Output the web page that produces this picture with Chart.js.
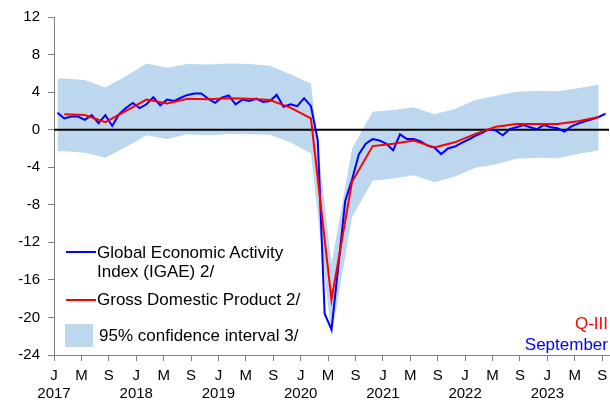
<!DOCTYPE html>
<html>
<head>
<meta charset="utf-8">
<script src="https://cdn.jsdelivr.net/npm/chart.js@4.4.1/dist/chart.umd.min.js"></script>
<style>
  html, body { margin: 0; padding: 0; background: #fff; }
  #wrap { position: relative; width: 610px; height: 404px; font-family: Arial, "Liberation Sans", sans-serif; color: #000; }
  #chart { position: absolute; left: 0; top: 0; }
  .txt { position: absolute; font-size: 17px; line-height: 19px; white-space: nowrap; }
  .key { position: absolute; }
</style>
</head>
<body>
<div id="wrap">
  <canvas id="chart" width="610" height="404"></canvas>
  <div class="key" style="left:66px; top:251px; width:30px; height:2px; background:#0000ff"></div>
  <div class="txt" style="left:97px; top:243px">Global Economic Activity<br>Index (IGAE) 2/</div>
  <div class="key" style="left:66px; top:299px; width:30px; height:2px; background:#ff0000"></div>
  <div class="txt" style="left:97px; top:290px">Gross Domestic Product 2/</div>
  <div class="key" style="left:65px; top:324px; width:28px; height:23px; background:#bdd7ee"></div>
  <div class="txt" style="left:99px; top:326px">95% confidence interval 3/</div>
  <div class="txt" style="right:2px; top:314px; color:#ff0000">Q-III</div>
  <div class="txt" style="right:2px; top:335px; color:#0000ff">September</div>
</div>
<script>
// Axis labels
const monthLetters = ['J', 'M', 'S'];
const tickYears = ['2017', '2018', '2019', '2020', '2021', '2022', '2023'];

// IGAE, monthly, Jan 2017 - Sep 2023 (annual % change)
const igae = [
  1.8, 1.2, 1.4, 1.4, 1.05, 1.55, 0.7, 1.55, 0.4, 1.65, 2.3, 2.85,
  2.3, 2.7, 3.45, 2.6, 3.2, 3.05, 3.4, 3.7, 3.85, 3.85, 3.3, 2.85,
  3.4, 3.65, 2.7, 3.2, 3.05, 3.3, 2.95, 3.05, 3.7, 2.45, 2.7, 2.5,
  3.35, 2.5, -1.15, -19.6, -21.3, -14.5, -7.6, -5.3, -2.6, -1.5, -1.0, -1.15,
  -1.5, -2.2, -0.5, -1.0, -1.0, -1.25, -1.7, -1.9, -2.6, -2.0, -1.8, -1.4,
  -1.05, -0.65, -0.35, 0.05, -0.1, -0.6, 0.05, 0.25, 0.5, 0.25, 0.05, 0.5,
  0.25, 0.15, -0.2, 0.35, 0.65, 0.9, 1.1, 1.35, 1.7
];

// GDP, quarterly, Q1 2017 - Q3 2023
const gdp = [
  1.65, 1.55, 0.8, 2.0,
  3.2, 2.8, 3.3, 3.25,
  3.35, 3.3, 3.15, 2.35,
  1.2, -18.1, -5.55, -1.75,
  -1.5, -1.15, -1.9, -1.35,
  -0.45, 0.3, 0.6, 0.6,
  0.6, 0.9, 1.35
];

// 95% confidence interval, quarterly
const ciUpper = [
  5.45, 5.3, 4.5, 5.7,
  7.05, 6.6, 7.0, 6.95,
  7.05, 7.0, 6.8, 5.9,
  4.9, -14.3, -2.0, 1.9,
  2.1, 2.4, 1.65, 2.2,
  3.15, 3.6, 4.05, 4.15,
  4.1, 4.4, 4.8
];
const ciLower = [
  -2.3, -2.45, -3.0, -1.85,
  -0.6, -1.0, -0.5, -0.6,
  -0.45, -0.5, -0.55, -1.35,
  -2.55, -22.0, -9.3, -5.45,
  -5.2, -4.85, -5.6, -5.0,
  -4.05, -3.7, -3.1, -3.0,
  -3.05, -2.6, -2.2
];

// quarters sit on their middle month; the band starts at January 2017
const quarterPoints = arr => arr.map((v, q) => ({ x: 3 * q + 1, y: v }));
const bandPoints = arr => [{ x: 0, y: arr[0] }].concat(quarterPoints(arr));

// zero line drawn over the band, under the two series
const zeroLine = {
  id: 'zeroLine',
  beforeDatasetDraw(chart, args) {
    if (args.index !== 1) return;
    const { ctx, chartArea, scales } = chart;
    const y = scales.y.getPixelForValue(0);
    ctx.save();
    ctx.strokeStyle = '#000';
    ctx.lineWidth = 2;
    ctx.beginPath();
    ctx.moveTo(chartArea.left, y);
    ctx.lineTo(chartArea.right, y);
    ctx.stroke();
    ctx.restore();
  }
};

const ctx = document.getElementById('chart').getContext('2d');
new Chart(ctx, {
  type: 'line',
  data: {
    datasets: [
      {
        label: 'Gross Domestic Product 2/',
        data: quarterPoints(gdp),
        borderColor: '#ff0000',
        borderWidth: 2,
        pointRadius: 0,
        fill: false
      },
      {
        label: 'Global Economic Activity Index (IGAE) 2/',
        data: igae.map((v, i) => ({ x: i, y: v })),
        borderColor: '#0000ff',
        borderWidth: 2,
        pointRadius: 0,
        fill: false
      },
      {
        label: '95% confidence interval 3/',
        data: bandPoints(ciUpper),
        borderWidth: 0,
        borderColor: 'rgba(0,0,0,0)',
        backgroundColor: '#bdd7ee',
        pointRadius: 0,
        fill: '+1'
      },
      {
        label: 'lower',
        data: bandPoints(ciLower),
        borderWidth: 0,
        borderColor: 'rgba(0,0,0,0)',
        pointRadius: 0,
        fill: false
      }
    ]
  },
  options: {
    responsive: false,
    animation: false,
    layout: { padding: { top: 13, right: 1, left: 0, bottom: 0 } },
    plugins: { legend: { display: false }, tooltip: { enabled: false } },
    scales: {
      x: {
        type: 'linear',
        min: -0.5,
        max: 80.5,
        afterBuildTicks: scale => {
          scale.ticks = [];
          for (let k = 0; k <= 20; k++) scale.ticks.push({ value: -0.5 + 4 * k });
        },
        afterFit: scale => {
          scale.height = 49;
          scale.paddingLeft = 0;
          scale.paddingRight = 0;
        },
        ticks: {
          autoSkip: false,
          maxRotation: 0,
          padding: 5,
          color: '#000',
          font: { family: 'Arial, "Liberation Sans", sans-serif', size: 15, lineHeight: 1.25 },
          callback: (value, index) => index % 3 === 0
            ? [monthLetters[0], tickYears[index / 3]]
            : monthLetters[index % 3]
        },
        grid: { drawOnChartArea: false, tickLength: 6, color: '#808080' },
        border: { color: '#808080', width: 1 }
      },
      y: {
        min: -24,
        max: 12,
        afterFit: scale => { scale.width = 54; },
        ticks: {
          stepSize: 4,
          padding: 8,
          color: '#000',
          font: { family: 'Arial, "Liberation Sans", sans-serif', size: 15 }
        },
        grid: { drawOnChartArea: false, tickLength: 6, color: '#808080' },
        border: { color: '#808080', width: 1 }
      }
    }
  },
  plugins: [zeroLine]
});
</script>
</body>
</html>
